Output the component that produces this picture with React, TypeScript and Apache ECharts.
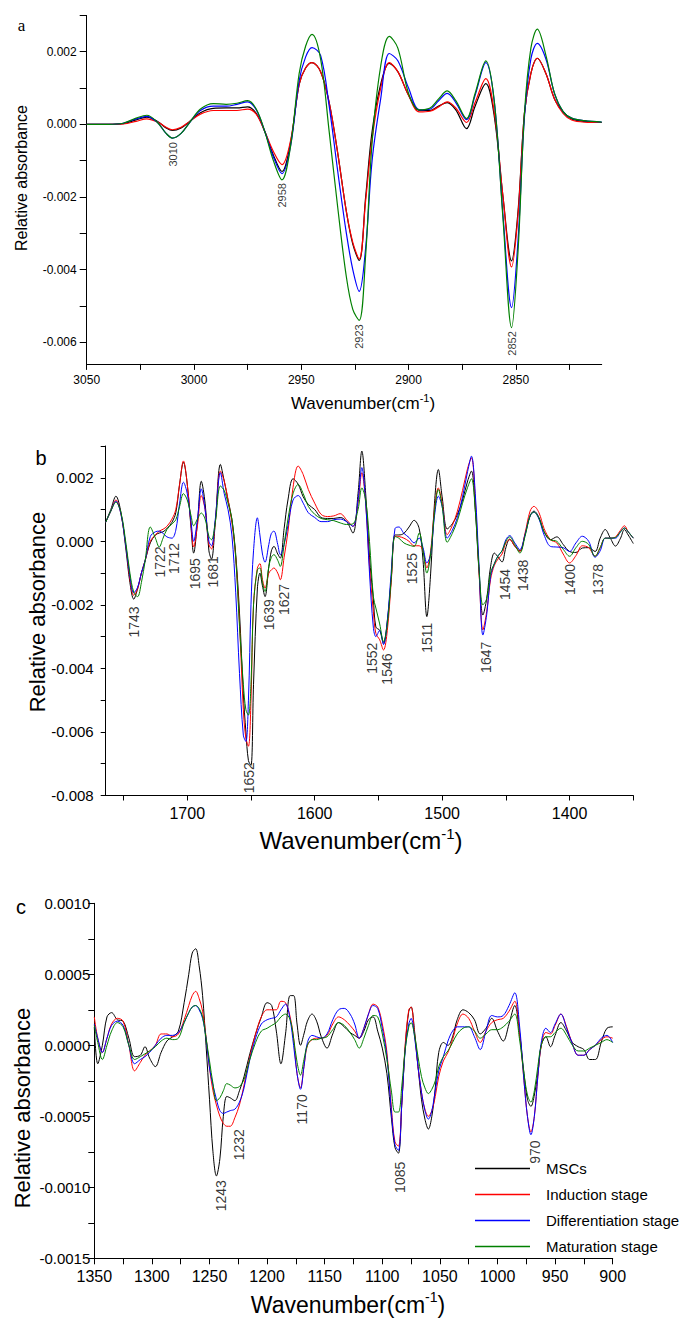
import React, { useEffect, useRef } from 'react';
import * as echarts from 'echarts';

// All absorbance arrays below are written in units of 10^-3
const UNIT = 1e-3;
const FONT = 'Liberation Sans, Arial, sans-serif';

const SERIES_NAMES = ['MSCs', 'Induction stage', 'Differentiation stage', 'Maturation stage'];
const SERIES_COLORS = ['#000000', '#ff0000', '#0000ff', '#008000'];

// ---------- Panel a (3050-2810 cm-1) ----------
const A_WN = [3050, 3040, 3033, 3027, 3022, 3017, 3013, 3010, 3006, 3002,
  2997, 2991, 2985, 2980, 2975, 2971, 2967, 2963, 2959, 2955,
  2951, 2948, 2945, 2941, 2937, 2933, 2929, 2926, 2923, 2920,
  2917, 2913, 2909, 2905, 2900, 2895, 2890, 2886, 2882, 2878,
  2873, 2869, 2864, 2860, 2856, 2852, 2849, 2846, 2843, 2840,
  2836, 2832, 2828, 2824, 2818, 2810];
const A_MSC = [0, 0, 0.02, 0.12, 0.2, 0.08, -0.1, -0.17, -0.1, 0.08,
  0.32, 0.44, 0.45, 0.45, 0.48, 0.3, -0.2, -0.85, -1.3, -0.5,
  1.1, 1.55, 1.7, 1.45, 0.6, -0.8, -2.4, -3.3, -3.75, -2.0,
  -0.2, 1.1, 1.68, 1.45, 0.8, 0.38, 0.38, 0.5, 0.6, 0.4,
  -0.12, 0.5, 1.12, 0.2, -2.0, -3.76, -2.4, 0.3, 1.4, 1.82,
  1.4, 0.7, 0.35, 0.15, 0.08, 0.05];
const A_IND = [0, 0, 0.01, 0.08, 0.15, 0.06, -0.08, -0.15, -0.08, 0.08,
  0.28, 0.38, 0.38, 0.38, 0.42, 0.28, -0.2, -0.75, -1.11, -0.45,
  1.1, 1.55, 1.7, 1.45, 0.6, -0.8, -2.4, -3.25, -3.71, -2.1,
  -0.4, 1.0, 1.7, 1.45, 0.8, 0.34, 0.36, 0.48, 0.62, 0.45,
  0.05, 0.6, 1.26, 0.3, -2.0, -3.93, -2.5, 0.3, 1.4, 1.82,
  1.4, 0.7, 0.3, 0.12, 0.06, 0.05];
const A_DIF = [0, 0, 0.03, 0.15, 0.22, 0.05, -0.25, -0.38, -0.25, 0.05,
  0.38, 0.5, 0.5, 0.55, 0.62, 0.4, -0.2, -0.9, -1.36, -0.6,
  1.2, 1.85, 2.11, 1.9, 0.5, -1.3, -3.0, -4.0, -4.6, -3.4,
  -1.0, 0.7, 1.95, 1.75, 1.0, 0.4, 0.42, 0.65, 0.85, 0.6,
  0.13, 0.8, 1.7, 0.6, -2.5, -5.05, -3.2, 0.2, 1.8, 2.23,
  1.8, 0.85, 0.35, 0.17, 0.1, 0.06];
const A_MAT = [0, 0, 0.03, 0.17, 0.25, 0.05, -0.25, -0.38, -0.25, 0.05,
  0.42, 0.57, 0.55, 0.58, 0.65, 0.42, -0.2, -1.0, -1.53, -0.6,
  1.4, 2.15, 2.48, 1.8, -0.2, -2.3, -4.2, -5.1, -5.4, -3.6,
  -0.5, 1.6, 2.42, 2.1, 0.85, 0.4, 0.45, 0.7, 0.92, 0.65,
  0.16, 0.85, 1.75, 0.6, -2.6, -5.6, -3.5, 0.3, 2.1, 2.62,
  1.9, 0.85, 0.35, 0.17, 0.1, 0.06];
const A_PEAK_TEXT = ['3010', '2958', '2923', '2852'];
const A_PEAK_WN = [3010, 2959, 2923, 2852];
const A_PEAK_AT = [-0.49, -1.62, -5.51, -5.7];
const A_XTICKS = [3050, 3025, 3000, 2975, 2950, 2925, 2900, 2875, 2850, 2825];
const A_XLABELS = [3050, 3000, 2950, 2900, 2850];
const A_YTICKS = [-0.006, -0.005, -0.004, -0.003, -0.002, -0.001, 0, 0.001, 0.002, 0.003];
const A_YLABELS = [-0.006, -0.004, -0.002, 0, 0.002];

// ---------- Panel b (1764-1350 cm-1) ----------
const B_WN = [1764, 1760, 1756, 1752, 1748, 1745, 1742, 1739, 1736, 1733,
  1729, 1725, 1722, 1719, 1716, 1712, 1709, 1706, 1703, 1700,
  1697, 1695, 1692, 1689, 1686, 1683, 1681, 1678, 1674, 1671,
  1668, 1665, 1662, 1659, 1656, 1654, 1652, 1650, 1648, 1645,
  1643, 1641, 1639, 1636, 1634, 1632, 1629, 1627, 1624, 1621,
  1617, 1613, 1609, 1605, 1600, 1595, 1590, 1585, 1580, 1575,
  1570, 1566, 1563, 1560, 1557, 1554, 1552, 1549, 1546, 1543,
  1540, 1537, 1534, 1530, 1526, 1522, 1518, 1515, 1512, 1509,
  1506, 1503, 1500, 1496, 1492, 1488, 1484, 1480, 1477, 1474,
  1471, 1468, 1465, 1462, 1459, 1456, 1453, 1450, 1447, 1443,
  1439, 1435, 1431, 1428, 1424, 1420, 1415, 1410, 1405, 1400,
  1395, 1390, 1385, 1380, 1376, 1372, 1368, 1364, 1360, 1357,
  1354, 1350];
const B_MSC = [0.6, 1.0, 1.42, 0.9, -0.3, -1.3, -1.82, -1.5, -1.0, -0.6,
  -0.05, 0.2, 0.26, 0.3, 0.4, 0.6, 0.9, 1.8, 2.49, 1.8,
  0.4, -0.37, 0.6, 1.89, 1.2, -0.3, -0.56, 0.6, 2.42, 1.9,
  1.3, 0.7, -0.4, -2.26, -4.8, -6.0, -6.9, -7.05, -4.5, -1.5,
  -1.0, -1.4, -1.74, -0.8, -0.3, -0.16, -0.4, -0.53, 0.4, 1.3,
  1.97, 1.8, 1.4, 1.16, 1.0, 0.75, 0.72, 0.72, 0.75, 0.63,
  0.26, 1.5, 2.84, 1.5, -0.5, -1.8, -2.7, -2.8, -3.21, -2.5,
  -1.2, 0.2, 0.2, 0.25, 0.45, 0.66, 0.4, -0.6, -2.37, -1.0,
  1.2, 2.26, 1.4, 0.39, 0.55, 0.85, 1.3, 1.9, 2.21, 1.0,
  -1.0, -2.32, -1.8, -0.8, -0.37, -0.5, -0.65, -0.2, 0.07, -0.15,
  -0.3, 0.2, 0.8, 0.95, 0.75, 0.3, 0.05, 0.14, -0.1, -0.32,
  -0.35, -0.21, -0.2, -0.32, 0.1, 0.37, 0.1, -0.15, 0.1, 0.37,
  0.2, -0.07];
const B_IND = [0.6, 0.95, 1.3, 0.85, -0.2, -1.2, -1.7, -1.5, -1.0, -0.6,
  0.0, 0.2, 0.32, 0.38, 0.47, 0.7, 1.0, 1.8, 2.53, 1.8,
  0.5, -0.18, 0.5, 1.44, 1.0, -0.1, -0.24, 0.6, 2.21, 1.9,
  1.3, 0.6, -0.5, -2.58, -5.3, -6.2, -6.45, -5.0, -2.0, -0.85,
  -0.7, -1.2, -1.47, -1.0, -0.9, -0.84, -1.0, -1.21, -0.5, 0.3,
  1.7, 2.37, 2.1, 1.63, 1.2, 0.85, 0.78, 0.8, 0.87, 0.68,
  0.47, 1.2, 2.16, 1.2, -0.8, -2.2, -2.9, -3.1, -3.42, -2.8,
  -1.3, 0.16, 0.15, 0.1, 0.0, -0.14, -0.14, -0.3, -0.84, -0.3,
  1.0, 1.68, 1.2, 0.21, 0.5, 0.95, 1.6, 2.3, 2.63, 1.3,
  -1.0, -2.79, -2.2, -1.2, -0.75, -0.55, -0.4, -0.05, 0.05, -0.15,
  -0.32, 0.25, 0.95, 1.1, 0.9, 0.4, 0.05, -0.05, -0.4, -0.68,
  -0.45, -0.14, -0.2, -0.47, -0.2, 0.1, 0.1, 0.14, 0.35, 0.49,
  0.3, 0.1];
const B_DIF = [0.6, 0.95, 1.26, 0.85, -0.2, -1.1, -1.62, -1.45, -1.0, -0.6,
  0.15, 0.3, 0.32, 0.25, 0.14, 0.1, 0.35, 1.2, 1.86, 1.5,
  0.6, 0.0, 0.7, 1.65, 1.0, 0.0, -0.14, 0.7, 2.16, 1.5,
  1.0, 0.2, -1.6, -4.16, -6.1, -6.3, -5.0, -2.0, -0.3, 0.74,
  0.2, -0.4, -0.66, -0.1, 0.25, 0.32, -0.1, -0.42, -0.1, 0.5,
  1.3, 1.44, 1.2, 0.9, 0.75, 0.62, 0.62, 0.68, 0.7, 0.62,
  0.47, 1.3, 2.32, 1.2, -1.0, -2.7, -3.0, -2.8, -3.25, -2.5,
  -1.0, 0.4, 0.45, 0.25, 0.12, -0.05, 0.1, -0.2, -0.68, -0.4,
  0.8, 1.42, 1.1, 0.1, 0.35, 0.75, 1.4, 2.2, 2.68, 1.5,
  -0.8, -2.95, -2.3, -1.1, -0.7, -0.45, -0.3, 0.05, 0.18, -0.05,
  -0.26, 0.2, 0.8, 0.92, 0.7, 0.2, -0.16, -0.18, -0.2, -0.32,
  -0.05, 0.16, 0.0, -0.5, -0.3, 0.1, 0.1, 0.1, 0.3, 0.42,
  0.3, 0.1];
const B_MAT = [0.6, 0.95, 1.23, 0.9, -0.1, -1.0, -1.6, -1.74, -1.3, -0.6,
  0.45, 0.1, -0.18, 0.1, 0.37, 0.55, 0.68, 1.1, 1.5, 1.3,
  0.8, 0.49, 0.7, 0.89, 0.7, 0.15, 0.05, 0.6, 1.74, 1.6,
  1.2, 0.7, -0.5, -2.68, -4.5, -5.3, -5.47, -4.5, -2.0, -0.9,
  -0.84, -1.3, -1.58, -0.8, -0.5, -0.42, -0.6, -0.79, -0.1, 0.7,
  1.5, 1.79, 1.5, 1.1, 0.85, 0.72, 0.68, 0.65, 0.58, 0.53,
  0.55, 1.0, 1.68, 1.3, 0.0, -1.74, -2.1, -2.6, -3.16, -2.6,
  -1.2, 0.15, 0.1, -0.05, -0.12, -0.16, 0.26, -0.3, -1.0, -0.4,
  0.9, 1.63, 1.1, -0.03, 0.25, 0.65, 1.2, 1.7, 1.97, 1.0,
  -0.9, -2.0, -1.8, -1.0, -0.7, -0.45, -0.3, 0.0, 0.14, -0.1,
  -0.37, 0.15, 0.8, 0.92, 0.72, 0.3, 0.05, 0.0, -0.25, -0.47,
  -0.2, 0.0, -0.1, -0.47, -0.2, 0.1, 0.1, 0.12, 0.3, 0.42,
  0.3, 0.1];
const B_PEAK_TEXT = ['1743', '1722', '1712', '1695', '1681', '1652', '1639', '1627', '1552',
  '1546', '1525', '1511', '1647', '1454', '1438', '1400', '1378'];
const B_PEAK_WN = [1741.6, 1721.1, 1710.6, 1693.6, 1679.9, 1651.8, 1635.8, 1624, 1554.7,
  1543.5, 1523.9, 1511.6, 1465.9, 1450.8, 1436.4, 1399.3, 1377.7];
const B_PEAK_AT = [-2.05, -0.16, -0.05, -0.53, -0.47, -6.95, -1.82, -1.34, -3.19,
  -3.53, -0.37, -2.56, -3.16, -0.87, -0.58, -0.71, -0.71];
const B_XTICKS = [1750, 1700, 1650, 1600, 1550, 1500, 1450, 1400, 1350];
const B_XLABELS = [1700, 1600, 1500, 1400];
const B_YTICKS = [-0.008, -0.007, -0.006, -0.005, -0.004, -0.003, -0.002, -0.001, 0, 0.001, 0.002, 0.003];
const B_YLABELS = [-0.008, -0.006, -0.004, -0.002, 0, 0.002];

// ---------- Panel c (1350-900 cm-1) ----------
const C_WN = [1350, 1347, 1343, 1339, 1335, 1330, 1325, 1320, 1315, 1310,
  1306, 1302, 1297, 1292, 1287, 1282, 1277, 1272, 1268, 1265,
  1262, 1259, 1256, 1253, 1250, 1247, 1244, 1241, 1238, 1235,
  1232, 1228, 1224, 1220, 1215, 1210, 1205, 1200, 1196, 1192,
  1188, 1184, 1180, 1177, 1174, 1171, 1168, 1165, 1161, 1157,
  1153, 1148, 1143, 1138, 1133, 1128, 1124, 1120, 1116, 1112,
  1108, 1104, 1100, 1096, 1092, 1089, 1086, 1083, 1080, 1077,
  1075, 1072, 1069, 1066, 1063, 1060, 1057, 1054, 1051, 1047,
  1043, 1039, 1035, 1030, 1025, 1020, 1015, 1010, 1005, 1000,
  995, 990, 985, 981, 977, 974, 971, 968, 965, 962,
  958, 954, 950, 945, 940, 935, 930, 925, 920, 915,
  910, 905, 900];
const C_MSC = [0.13, -0.13, 0.0, 0.2, 0.23, 0.18, 0.17, 0.05, -0.08, -0.07,
  -0.01, -0.09, -0.15, -0.05, 0.03, 0.06, 0.1, 0.3, 0.5, 0.65,
  0.68, 0.56, 0.35, 0.0, -0.38, -0.75, -0.92, -0.8, -0.5, -0.36,
  -0.37, -0.39, -0.32, -0.22, -0.06, 0.08, 0.2, 0.3, 0.28, 0.1,
  -0.13, 0.08, 0.35, 0.35, 0.15, 0.0, 0.08, 0.17, 0.22, 0.17,
  0.06, -0.02, 0.08, 0.16, 0.13, 0.09, 0.07, 0.05, 0.1, 0.18,
  0.2, 0.1, -0.02, -0.2, -0.52, -0.72, -0.76, -0.4, 0.0, 0.24,
  0.27, 0.1, -0.15, -0.38, -0.52, -0.59, -0.5, -0.3, -0.05, 0.02,
  0.0, 0.06, 0.18, 0.25, 0.23, 0.18, 0.08, 0.12, 0.19, 0.1,
  0.03, 0.15, 0.28, 0.1, -0.2, -0.38, -0.43, -0.35, -0.2, 0.0,
  0.06, -0.01, 0.07, 0.16, 0.1, 0.02, -0.01, -0.03, -0.1, -0.1,
  0.02, 0.12, 0.13];
const C_IND = [0.2, 0.05, -0.05, 0.05, 0.15, 0.19, 0.17, 0.0, -0.18, -0.12,
  -0.07, -0.04, 0.0, 0.08, 0.08, 0.06, 0.08, 0.18, 0.28, 0.35,
  0.38, 0.33, 0.24, 0.06, -0.16, -0.32, -0.42, -0.5, -0.55, -0.57,
  -0.57, -0.51, -0.42, -0.28, -0.08, 0.08, 0.2, 0.25, 0.25, 0.25,
  0.31, 0.3, 0.2, 0.05, -0.2, -0.3, -0.15, 0.0, 0.04, 0.05,
  0.05, 0.07, 0.15, 0.2, 0.18, 0.14, 0.1, 0.05, 0.12, 0.22,
  0.29, 0.27, 0.15, -0.05, -0.45, -0.68, -0.71, -0.4, 0.02, 0.25,
  0.27, 0.08, -0.15, -0.33, -0.45, -0.5, -0.46, -0.36, -0.22, -0.11,
  -0.05, 0.04, 0.15, 0.22, 0.19, 0.1, 0.02, 0.1, 0.16, 0.18,
  0.19, 0.24, 0.31, 0.1, -0.25, -0.5, -0.61, -0.5, -0.22, 0.0,
  0.09, 0.08, 0.14, 0.22, 0.13, 0.01, -0.07, -0.07, -0.03, 0.0,
  0.04, 0.06, 0.05];
const C_DIF = [0.15, 0.05, -0.05, 0.05, 0.14, 0.17, 0.14, 0.0, -0.13, -0.1,
  -0.08, -0.05, 0.0, 0.05, 0.07, 0.07, 0.09, 0.16, 0.23, 0.27,
  0.28, 0.25, 0.19, 0.05, -0.16, -0.28, -0.38, -0.46, -0.48, -0.47,
  -0.46, -0.45, -0.4, -0.3, -0.1, 0.05, 0.15, 0.18, 0.19, 0.2,
  0.25, 0.29, 0.18, 0.0, -0.2, -0.31, -0.15, 0.02, 0.07, 0.06,
  0.05, 0.08, 0.18, 0.25, 0.26, 0.22, 0.15, 0.05, 0.12, 0.22,
  0.28, 0.26, 0.12, -0.08, -0.48, -0.7, -0.74, -0.4, -0.02, 0.15,
  0.19, 0.06, -0.15, -0.33, -0.46, -0.52, -0.46, -0.32, -0.18, -0.08,
  0.03, 0.1, 0.13, 0.13, 0.13, 0.06, -0.03, 0.1, 0.21, 0.2,
  0.21, 0.28, 0.37, 0.15, -0.25, -0.5, -0.63, -0.5, -0.22, 0.02,
  0.12, 0.09, 0.15, 0.22, 0.12, 0.01, -0.07, -0.07, -0.03, 0.0,
  0.05, 0.07, 0.02];
const C_MAT = [0.14, 0.02, -0.1, 0.0, 0.1, 0.16, 0.13, 0.0, -0.1, -0.08,
  -0.06, -0.04, -0.01, 0.03, 0.05, 0.04, 0.05, 0.16, 0.23, 0.27,
  0.28, 0.26, 0.2, 0.05, -0.11, -0.27, -0.39, -0.37, -0.32, -0.27,
  -0.28, -0.3, -0.29, -0.24, -0.1, 0.02, 0.1, 0.12, 0.14, 0.16,
  0.2, 0.22, 0.18, 0.05, -0.12, -0.21, -0.1, 0.0, 0.04, 0.04,
  0.05, 0.06, 0.11, 0.16, 0.14, 0.09, 0.04, -0.02, 0.05, 0.14,
  0.21, 0.2, 0.08, -0.1, -0.33, -0.47, -0.47, -0.28, -0.02, 0.13,
  0.16, 0.07, -0.08, -0.22, -0.3, -0.34, -0.31, -0.25, -0.15, -0.08,
  -0.04, 0.02, 0.08, 0.12, 0.13, 0.1, 0.05, 0.08, 0.11, 0.11,
  0.13, 0.17, 0.22, 0.05, -0.2, -0.35, -0.4, -0.32, -0.15, 0.0,
  0.06, 0.06, 0.09, 0.12, 0.07, 0.0, -0.04, -0.04, -0.02, 0.0,
  0.02, 0.04, 0.02];
const C_PEAK_TEXT = ['1243', '1232', '1170', '1085', '970'];
const C_PEAK_WN = [1240.4, 1224.4, 1170.1, 1084.9, 967.4];
const C_PEAK_AT = [-0.95, -0.59, -0.345, -0.82, -0.67];
const C_XTICKS = [1350, 1325, 1300, 1275, 1250, 1225, 1200, 1175, 1150, 1125, 1100, 1075, 1050, 1025, 1000, 975, 950, 925, 900];
const C_XLABELS = [1350, 1300, 1250, 1200, 1150, 1100, 1050, 1000, 950, 900];
const C_YTICKS = [-0.0015, -0.00125, -0.001, -0.00075, -0.0005, -0.00025, 0, 0.00025, 0.0005, 0.00075, 0.001];
const C_YLABELS = [-0.0015, -0.001, -0.0005, 0, 0.0005, 0.001];

function lineSeries(idx: number, xs: number[], sets: number[][], width: number) {
  return sets.map((ys, k) => ({
    type: 'line',
    name: SERIES_NAMES[k],
    xAxisIndex: idx,
    yAxisIndex: idx,
    data: xs.map((x, i) => [x, ys[i] * UNIT]),
    symbol: 'none',
    showSymbol: false,
    smooth: 0.35,
    silent: true,
    lineStyle: { color: SERIES_COLORS[k], width },
    itemStyle: { color: SERIES_COLORS[k] },
    z: 2 + k,
  }));
}

function peakSeries(idx: number, xs: number[], ys: number[], texts: string[], fontSize: number) {
  return {
    type: 'scatter',
    name: 'peaks-' + idx,
    xAxisIndex: idx,
    yAxisIndex: idx,
    symbolSize: 1,
    silent: true,
    itemStyle: { color: 'rgba(0,0,0,0)' },
    data: xs.map((x, i) => ({ value: [x, ys[i] * UNIT], label: { formatter: texts[i] } })),
    label: {
      show: true,
      position: 'inside',
      rotate: 90,
      align: 'right',
      verticalAlign: 'middle',
      fontSize,
      color: '#000',
      fontFamily: FONT,
    },
    z: 10,
  };
}

const blackLine = { show: true, onZero: false, lineStyle: { color: '#000', width: 1 } };

function xAxis(idx: number, min: number, max: number, ticks: number[], labels: number[], fontSize: number, tickLen: number) {
  return {
    gridIndex: idx,
    type: 'value',
    min,
    max,
    inverse: true,
    axisLine: blackLine,
    axisTick: { show: true, length: tickLen, customValues: ticks, lineStyle: { color: '#000', width: 1 } },
    axisLabel: { customValues: labels, fontSize, margin: 10, color: '#000', fontFamily: FONT, formatter: (v: number) => String(Math.round(v)) },
    splitLine: { show: false },
  };
}

function yAxis(idx: number, min: number, max: number, ticks: number[], labels: number[], fontSize: number, tickLen: number, margin: number, digits: number) {
  return {
    gridIndex: idx,
    type: 'value',
    min,
    max,
    axisLine: blackLine,
    axisTick: { show: true, length: tickLen, customValues: ticks, lineStyle: { color: '#000', width: 1 } },
    axisLabel: { customValues: labels, fontSize, margin, color: '#000', fontFamily: FONT, formatter: (v: number) => v.toFixed(digits) },
    splitLine: { show: false },
  };
}

function vText(x: number, y: number, text: string, size: number) {
  return {
    type: 'text', x, y, rotation: Math.PI / 2, silent: true,
    style: { text, fill: '#000', font: `${size}px ${FONT}`, align: 'center', verticalAlign: 'middle', textAlign: 'center', textVerticalAlign: 'middle' },
  };
}

function wnTitle(x: number, y: number, size: number) {
  const sup = Math.round(size * 0.62);
  return {
    type: 'text', x, y, silent: true,
    style: {
      text: '{m|Wavenumber(cm}{s|-1}{m|)}',
      fill: '#000',
      align: 'center', verticalAlign: 'middle', textAlign: 'center', textVerticalAlign: 'middle',
      rich: {
        m: { fontSize: size, fontFamily: FONT, fill: '#000', lineHeight: size + 3, verticalAlign: 'bottom' },
        s: { fontSize: sup, fontFamily: FONT, fill: '#000', lineHeight: size + 3, verticalAlign: 'top' },
      },
    },
  };
}

function panelLetter(x: number, y: number, text: string, font: string) {
  return {
    type: 'text', x, y, silent: true,
    style: { text, fill: '#000', font, align: 'center', verticalAlign: 'middle', textAlign: 'center', textVerticalAlign: 'middle' },
  };
}

export default function App() {
  const ref = useRef<HTMLDivElement>(null);
  useEffect(() => {
    if (!ref.current) return;
    const chart = echarts.init(ref.current, null, { renderer: 'svg' });
    const option = {
      animation: false,
      backgroundColor: '#ffffff',
      textStyle: { fontFamily: FONT },
      grid: [
        { left: 86.7, top: 15.4, width: 515, height: 348.5 },
        { left: 105.7, top: 446, width: 527.6, height: 349.5 },
        { left: 94.3, top: 903.3, width: 518.4, height: 355 },
      ],
      xAxis: [
        xAxis(0, 2810, 3050, A_XTICKS, A_XLABELS, 12, 6),
        xAxis(1, 1350, 1764, B_XTICKS, B_XLABELS, 16, 5),
        xAxis(2, 900, 1350, C_XTICKS, C_XLABELS, 16, 6),
      ],
      yAxis: [
        yAxis(0, -0.0066, 0.003, A_YTICKS, A_YLABELS, 12, 7, 10, 3),
        yAxis(1, -0.008, 0.003, B_YTICKS, B_YLABELS, 15, 5, 12, 3),
        yAxis(2, -0.0015, 0.001, C_YTICKS, C_YLABELS, 15, 6, 4, 4),
      ],
      legend: {
        data: SERIES_NAMES,
        orient: 'vertical',
        left: 475,
        top: 1161,
        padding: 0,
        icon: 'rect',
        itemWidth: 55,
        itemHeight: 1.5,
        itemGap: 11,
        selectedMode: false,
        formatter: '{t|{name}}',
        textStyle: {
          fontSize: 15,
          color: '#000',
          fontFamily: FONT,
          rich: { t: { fontSize: 15, color: '#000', fontFamily: FONT, padding: [0, 0, 0, 11] } },
        },
      },
      graphic: [
        panelLetter(21.5, 25, 'a', `17px "Liberation Serif", "Times New Roman", serif`),
        panelLetter(41, 458, 'b', `20px ${FONT}`),
        panelLetter(21, 907, 'c', `20px ${FONT}`),
        vText(21, 178, 'Relative absorbance', 16),
        vText(37, 612, 'Relative absorbance', 22),
        vText(22, 1108, 'Relative absorbance', 22),
        wnTitle(363, 402, 17),
        wnTitle(361, 839, 24),
        wnTitle(348, 1303, 23),
      ],
      series: [
        ...lineSeries(0, A_WN, [A_MSC, A_IND, A_DIF, A_MAT], 1.2),
        ...lineSeries(1, B_WN, [B_MSC, B_IND, B_DIF, B_MAT], 1),
        ...lineSeries(2, C_WN, [C_MSC, C_IND, C_DIF, C_MAT], 1),
        peakSeries(0, A_PEAK_WN, A_PEAK_AT, A_PEAK_TEXT, 11),
        peakSeries(1, B_PEAK_WN, B_PEAK_AT, B_PEAK_TEXT, 14),
        peakSeries(2, C_PEAK_WN, C_PEAK_AT, C_PEAK_TEXT, 14),
      ],
    };
    chart.setOption(option as any);
    return () => chart.dispose();
  }, []);
  return (
    <div
      ref={ref}
      style={{ position: 'absolute', left: 0, top: 0, width: 683, height: 1320, background: '#fff' }}
    />
  );
}
